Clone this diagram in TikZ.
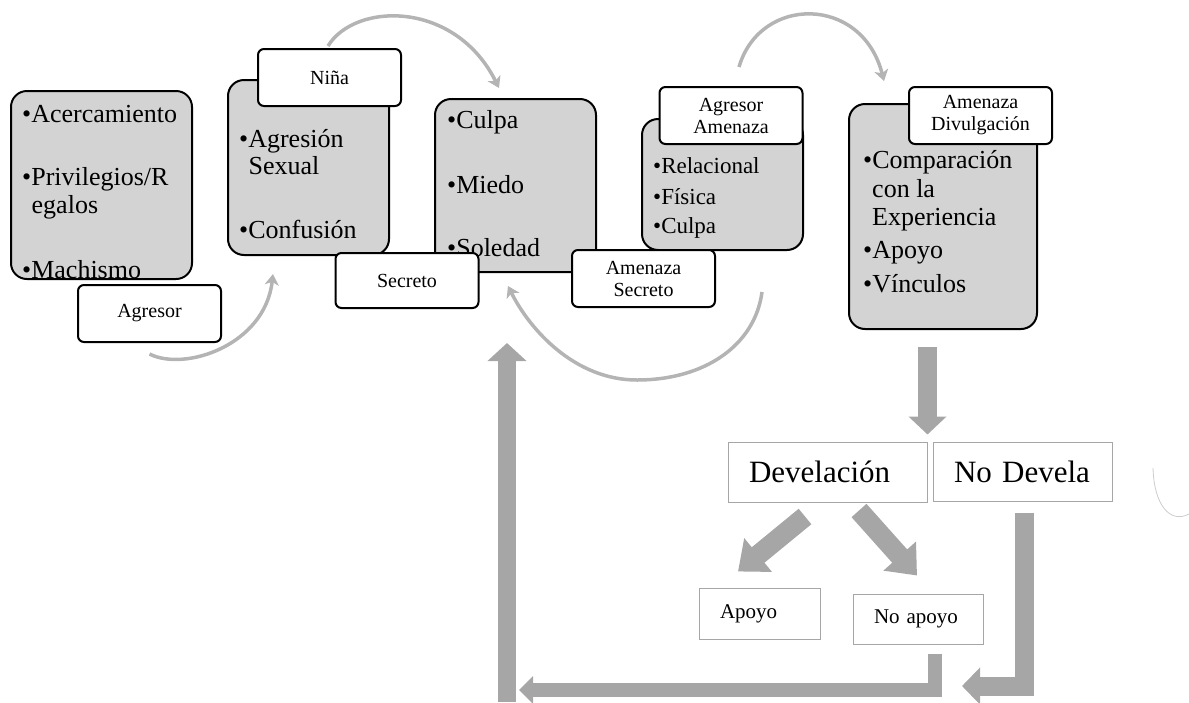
\documentclass[tikz,border=0pt]{standalone}
\usepackage{fontspec}
\setmainfont{Liberation Serif}
\usetikzlibrary{arrows.meta,calc}
\definecolor{boxgray}{HTML}{D3D3D3}
\definecolor{arrgray}{HTML}{A6A6A6}
\definecolor{arcgray}{HTML}{B4B4B4}
\definecolor{faintline}{HTML}{CCCCCC}
\newcommand\FS[1]{\fontsize{#1}{#1}\selectfont}
\tikzset{
  graybox/.style={draw=black, line width=2pt, fill=boxgray, rounded corners=16pt, inner sep=0pt},
  labelbox/.style={draw=black, line width=2pt, fill=white, rounded corners=6pt, inner sep=0pt,
    align=center, font=\fontsize{20}{22}\selectfont, minimum width=143pt, minimum height=57pt},
  plainbox/.style={draw=arrgray, line width=1pt, fill=white, inner xsep=21pt, inner ysep=0pt, align=left},
  btxt/.style={anchor=base west, inner sep=0pt, font=\FS{26}},
  stxt/.style={anchor=base west, inner sep=0pt, font=\FS{23}},
  bigarr/.style={draw=arrgray, line join=miter},
  thinarc/.style={draw=arcgray, line width=3.5pt, -{Stealth[length=11pt,width=14pt,inset=3pt]}},
}
\begin{document}
\begin{tikzpicture}[x=1pt,y=-1pt]
\useasboundingbox (0,0) rectangle (1189,702);
% gray boxes
\node[graybox, draw=none, minimum width=179pt, minimum height=186pt] (b1) at (101.5,185) {};
\node[graybox, minimum width=161pt, minimum height=175pt] (b3) at (308.5,167.5) {};
\node[graybox, minimum width=161pt, minimum height=173pt] (b5) at (515.5,185.5) {};
\node[graybox, minimum width=161pt, minimum height=131pt] (b7) at (722.5,184.5) {};
\node[graybox, minimum width=188pt, minimum height=225pt] (b10) at (943,216.5) {};
% texts in gray boxes
\begin{scope}
\clip[rounded corners=16pt] (b1.north west) rectangle (b1.south east);
\node[btxt] (t1a) at (22,122) {•Acercamiento};
\node[btxt] (t1b) at (22,185) {•Privilegios/R};
\node[btxt] (t1c) at (31.5,213) {egalos};
\node[btxt] (t1d) at (22,278) {•Machismo};
\end{scope}
\draw[line width=2pt, rounded corners=16pt] (b1.north west) rectangle (b1.south east);
\node[btxt] (t3a) at (239,147) {•Agresión};
\node[btxt] (t3b) at (248.5,174) {Sexual};
\node[btxt] (t3c) at (239,238) {•Confusión};
\node[btxt] (t5a) at (447,128) {•Culpa};
\node[btxt] (t5b) at (447,193) {•Miedo};
\node[btxt] (t5c) at (447,256) {•Soledad};
\node[stxt] (t7a) at (653,173) {•Relacional};
\node[stxt] (t7b) at (653,204) {•Física};
\node[stxt] (t7c) at (653,233) {•Culpa};
\node[btxt] (t10a) at (863,168) {•Comparación};
\node[btxt] (t10b) at (872,197) {con la};
\node[btxt] (t10c) at (872,225) {Experiencia};
\node[btxt] (t10d) at (863,258) {•Apoyo};
\node[btxt] (t10e) at (863,292) {•Vínculos};
% label boxes
\node[labelbox] (agr) at (149.5,313.5) {Agresor};
\node[labelbox] (nina) at (329.5,77.5) {Niña};
\node[labelbox, minimum height=55pt] (sec) at (407,280.5) {Secreto};
\node[labelbox] (agram) at (731,115.5) {Agresor\\Amenaza};
\node[labelbox] (amsec) at (643.5,278.5) {Amenaza\\Secreto};
\node[labelbox] (amdiv) at (980.5,115.5) {Amenaza\\Divulgación};
% bottom boxes
\node[plainbox, text width=157pt, minimum height=60pt, font=\FS{31}] (dev) at (827.5,472) {Develación};
\node[plainbox, text width=137pt, minimum height=59pt, font=\FS{31}] (nodev) at (1022.5,471.5) {No Devela};
\node[plainbox, text width=79pt, minimum height=51pt, font=\FS{21}] (apoyo) at (759.5,613.5) {Apoyo};
\node[plainbox, text width=88pt, minimum height=50pt, font=\FS{21}] (noap) at (918,619) {No apoyo};
% thin curved arrows
\draw[thinarc] ($(agr.south)+(0,11)$) .. controls (185,372) and (265,345) .. ($(b3.south)+(-35.5,18)$);
\draw[thinarc] ($(nina.north)+(-1.5,-2)$) .. controls (355,2) and (455,0) .. ($(b5.north)+(-16.5,-10)$);
\draw[thinarc] ($(amsec.east)+(46,13.5)$) .. controls (755,345) and (705,380) .. (637,380)
   .. controls (575,380) and (530,330) .. ($(b5.south)+(-7.5,13)$);
\draw[thinarc] ($(agram.north)+(8,-19)$) .. controls (760,-5) and (862,-5) .. ($(b10.north)+(-59,-22)$);
\draw[faintline, line width=0.8pt] (1153,468) .. controls (1154,505) and (1170,524) .. (1189,514);
% big gray arrows
\coordinate (ub) at (507,702);
\draw[bigarr, line width=19pt, -{Triangle[length=18pt,width=37pt]}]
  ($(dev.north east)+(0,-95)$) -- ($(dev.north east)+(0,-7)$);
\draw[bigarr, line width=20pt, -{Triangle[length=26pt,width=42pt]}]
  ($(dev.south)+(-22.5,14)$) -- ($(apoyo.north)+(-21.5,-16)$);
\draw[bigarr, line width=20pt, -{Triangle[length=26pt,width=42pt]}]
  ($(dev.south)+(31.5,8)$) -- ($(noap.north)+(-1,-18)$);
\draw[bigarr, line width=14pt, -{Triangle[length=14pt,width=27pt]}]
  ($(noap.south)+(17,9)$) |- ($(ub)+(12,-12)$);
\draw[bigarr, line width=19pt, -{Triangle[length=18pt,width=36pt]}]
  ($(nodev.south)+(1.5,11)$) |- (962,686);
\draw[bigarr, line width=18pt, -{Triangle[length=18pt,width=38pt]}]
  (ub) -- ($(b5.south)+(-8.5,70)$);
\end{tikzpicture}
\end{document}
